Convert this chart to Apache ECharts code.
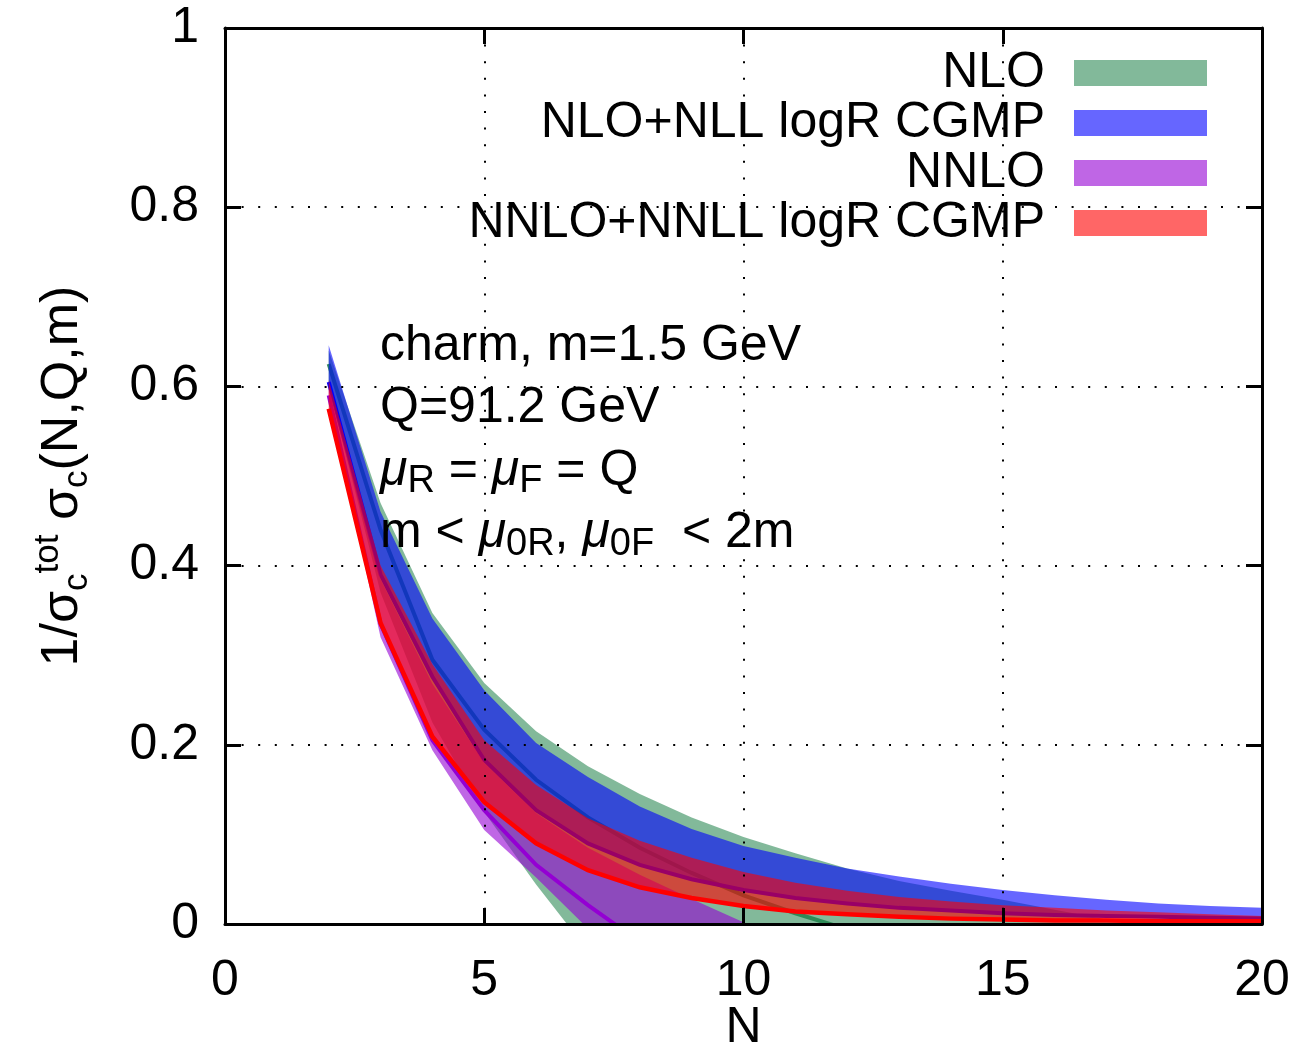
<!DOCTYPE html>
<html>
<head>
<meta charset="utf-8">
<title>Charm fragmentation moments</title>
<script src="https://cdn.jsdelivr.net/npm/echarts@6/dist/echarts.min.js"></script>
<style>
  html, body { margin: 0; padding: 0; background: #ffffff; }
  #chart { width: 1297px; height: 1049px; }
</style>
</head>
<body>
<div id="chart"></div>
<script>
// Mellin moment index
const N = [2, 3, 4, 5, 6, 7, 8, 9, 10, 11, 12, 13, 14, 15, 16, 17, 18, 19, 20];

// NLO: scale-variation band and central curve
const nloHigh = [0.640, 0.470, 0.347, 0.269, 0.215, 0.176, 0.145, 0.119, 0.097, 0.079, 0.062, 0.048, 0.037, 0.027, 0.016, 0.005, -0.006, -0.016, -0.025];
const nloLow  = [0.600, 0.370, 0.225, 0.125, 0.044, -0.030, -0.085, -0.130, -0.170, -0.200, -0.230, -0.250, -0.270, -0.290, -0.300, -0.310, -0.320, -0.330, -0.340];
const nloMid  = [0.625, 0.440, 0.295, 0.217, 0.161, 0.119, 0.085, 0.057, 0.032, 0.012, -0.006, -0.020, -0.033, -0.044, -0.054, -0.062, -0.070, -0.077, -0.083];

// NLO+NLL logR CGMP: band; the line follows its lower edge
const nllHigh = [0.646, 0.460, 0.341, 0.261, 0.202, 0.164, 0.131, 0.106, 0.087, 0.074, 0.062, 0.053, 0.045, 0.038, 0.032, 0.027, 0.023, 0.020, 0.018];
const nllLow  = [0.605, 0.390, 0.276, 0.183, 0.127, 0.090, 0.066, 0.050, 0.038, 0.029, 0.023, 0.018, 0.015, 0.012, 0.010, 0.009, 0.008, 0.007, 0.006];

// NNLO: band and central curve
const nnloHigh = [0.600, 0.385, 0.268, 0.180, 0.124, 0.085, 0.055, 0.028, 0.002, -0.020, -0.040, -0.060, -0.075, -0.090, -0.100, -0.110, -0.120, -0.130, -0.140];
const nnloLow  = [0.585, 0.320, 0.194, 0.105, 0.052, -0.005, -0.060, -0.110, -0.150, -0.190, -0.220, -0.250, -0.270, -0.290, -0.310, -0.330, -0.340, -0.350, -0.360];
const nnloMid  = [0.590, 0.335, 0.205, 0.127, 0.066, 0.021, -0.020, -0.060, -0.100, -0.130, -0.160, -0.185, -0.205, -0.225, -0.240, -0.255, -0.270, -0.280, -0.290];

// NNLO+NNLL logR CGMP: band; the line follows its lower edge
const nnllHigh = [0.607, 0.400, 0.290, 0.205, 0.155, 0.118, 0.093, 0.074, 0.058, 0.046, 0.037, 0.030, 0.025, 0.021, 0.018, 0.015, 0.013, 0.011, 0.009];
const nnllLow  = [0.575, 0.336, 0.209, 0.136, 0.090, 0.060, 0.041, 0.029, 0.020, 0.014, 0.011, 0.008, 0.006, 0.005, 0.004, 0.004, 0.003, 0.003, 0.003];

const legendNames = ['NLO', 'NLO+NLL logR CGMP', 'NNLO', 'NNLO+NNLL logR CGMP'];

// Text block inside the frame
const notes = [
  '{t|charm, m=1.5 GeV}',
  '{t|Q=91.2 GeV}',
  '{i|\u03bc}{s|R}{t| = }{i|\u03bc}{s|F}{t| = Q}',
  '{t|m < }{i|\u03bc}{s|0R}{t|, }{i|\u03bc}{s|0F}{t|  < 2m}'
];

const FONT = '"Liberation Sans", Arial, Helvetica, sans-serif';
const FS = 50;
const BLACK = '#000000';

const SEAGREEN = '#2e8b57';
const BLUE = '#0000ff';
const VIOLET = '#9400d3';
const RED = '#ff0000';
const FILL_ALPHA = 0.6;

// A translucent band between two curves, drawn as one polygon in data coordinates
function band(name, lo, hi, color) {
  const rows = N.map((n, i) => [n, lo[i], hi[i]]);
  return {
    name: name, type: 'custom', coordinateSystem: 'cartesian2d',
    data: rows, encode: { x: 0, y: [1, 2] },
    silent: true, clip: true, emphasis: { disabled: true },
    itemStyle: { color: color },
    renderItem: function (params, api) {
      if (params.dataIndex !== 0) return null;
      const top = rows.map(r => api.coord([r[0], r[2]]));
      const bottom = rows.map(r => api.coord([r[0], r[1]])).reverse();
      return {
        type: 'polygon',
        shape: { points: top.concat(bottom) },
        style: { fill: color, opacity: FILL_ALPHA, stroke: null }
      };
    }
  };
}

function curve(name, values, color, width) {
  return {
    name: name, type: 'line', data: N.map((n, i) => [n, values[i]]),
    symbol: 'none', silent: true, clip: true, emphasis: { disabled: true },
    itemStyle: { color: color },
    lineStyle: { color: color, width: width, join: 'miter' }
  };
}

// Each layer gets its own z so bands and curves stack in this exact order
const series = [
  band(legendNames[0], nloLow, nloHigh, SEAGREEN),
  curve('NLO central', nloMid, SEAGREEN, 4),
  band(legendNames[1], nllLow, nllHigh, BLUE),
  curve('NLO+NLL edge', nllLow, BLUE, 4),
  band(legendNames[2], nnloLow, nnloHigh, VIOLET),
  curve('NNLO central', nnloMid, VIOLET, 4),
  band(legendNames[3], nnllLow, nnllHigh, RED),
  curve('NNLO+NNLL edge', nnllLow, RED, 4.5)
].map((s, k) => Object.assign(s, { z: 10 + k }));

const legendFill = ['#82b99a', '#6666ff', '#bf66e5', '#ff6666'];

const frameLine = { show: true, onZero: false, lineStyle: { color: BLACK, width: 3 } };
const innerTick = { show: true, inside: true, length: 16, lineStyle: { color: BLACK, width: 3 } };
const dotted = { show: true, lineStyle: { color: BLACK, width: 2, type: [2, 14.6] } };

function tok(size, extra) {
  return Object.assign({ fontSize: size, fontFamily: FONT, color: BLACK, fill: BLACK }, extra || {});
}

const option = {
  animation: false,
  backgroundColor: '#ffffff',
  textStyle: { fontFamily: FONT, color: BLACK },
  grid: { left: 225, right: 35, top: 28, bottom: 125, containLabel: false, outerBoundsMode: 'none' },
  xAxis: [
    {
      type: 'value', position: 'bottom', min: 0, max: 20, interval: 5, z: 100,
      axisLine: frameLine, axisTick: innerTick, splitLine: dotted,
      axisLabel: { fontSize: FS, fontFamily: FONT, color: BLACK, margin: 32 },
      name: 'N', nameLocation: 'middle', nameGap: 79, nameMoveOverlap: false,
      nameTextStyle: { fontSize: FS, fontFamily: FONT, color: BLACK }
    },
    {
      type: 'value', position: 'top', min: 0, max: 20, interval: 5, z: 100,
      axisLine: frameLine, axisTick: innerTick, splitLine: { show: false },
      axisLabel: { show: false }
    }
  ],
  yAxis: [
    {
      type: 'value', position: 'left', min: 0, max: 1, interval: 0.2, z: 100,
      axisLine: frameLine, axisTick: innerTick, splitLine: dotted,
      axisLabel: { fontSize: FS, fontFamily: FONT, color: BLACK, margin: 26 },
      name: '{m|1/\u03c3}{sb|c}{sp|tot}{m| \u03c3}{sb|c}{m|(N,Q,m)}',
      nameLocation: 'middle', nameRotate: 90, nameGap: 130, nameMoveOverlap: false,
      nameTextStyle: {
        fontSize: FS, fontFamily: FONT, color: BLACK,
        rich: {
          m: tok(52, { lineHeight: 64 }),
          sp: tok(35, { lineHeight: 30, verticalAlign: 'top' }),
          sb: tok(35, { lineHeight: 38, verticalAlign: 'bottom' })
        }
      }
    },
    {
      type: 'value', position: 'right', min: 0, max: 1, interval: 0.2, z: 100,
      axisLine: frameLine, axisTick: innerTick, splitLine: { show: false },
      axisLabel: { show: false }
    }
  ],
  legend: {
    orient: 'vertical', right: 90, top: 48, padding: 0, itemGap: 0,
    itemWidth: 133, itemHeight: 26, align: 'right', selectedMode: false,
    textStyle: { fontSize: FS, fontFamily: FONT, color: BLACK, padding: [0, 24, 0, 0] },
    itemStyle: { borderWidth: 0 },
    data: legendNames.map((n, i) => ({ name: n, icon: 'rect', itemStyle: { color: legendFill[i], opacity: 1, borderWidth: 0 } }))
  },
  graphic: notes.map((text, k) => ({
    type: 'text', x: 380, y: 346 + 62.5 * k, z: 200, silent: true,
    style: {
      text: text, align: 'left', verticalAlign: 'middle',
      rich: {
        t: tok(FS, { lineHeight: 60 }),
        i: tok(FS, { lineHeight: 60, fontStyle: 'italic' }),
        s: tok(38, { lineHeight: 30, verticalAlign: 'bottom' })
      }
    }
  })),
  series: series
};

const chart = echarts.init(document.getElementById('chart'), null, { renderer: 'canvas' });
chart.setOption(option);
</script>
</body>
</html>
